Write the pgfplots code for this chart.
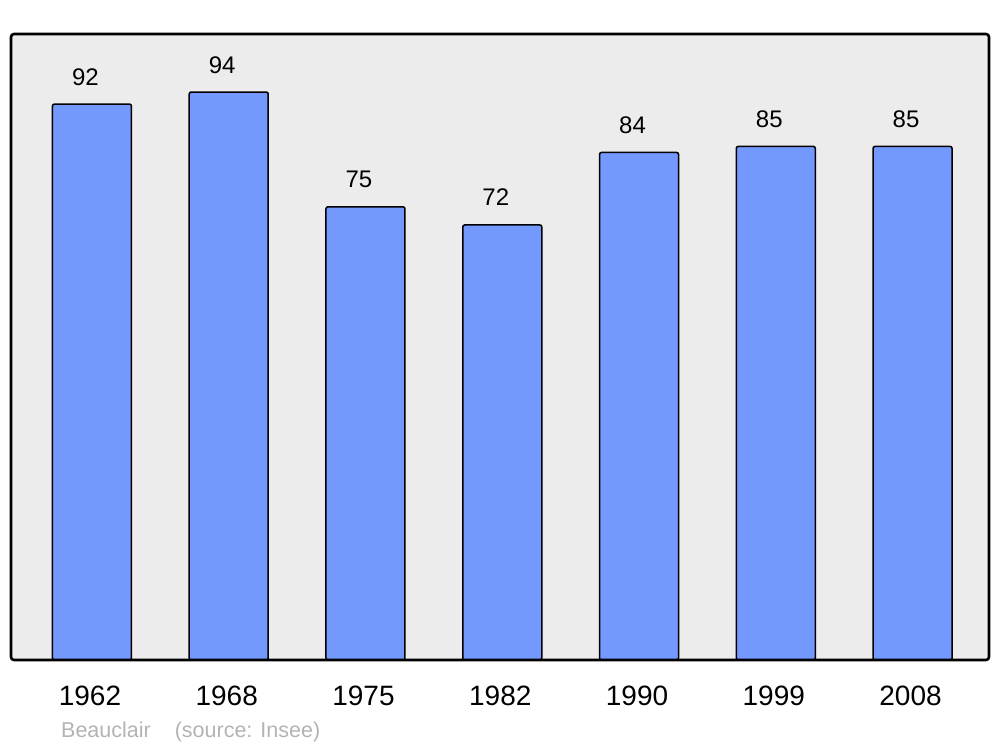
\documentclass[border=0pt]{standalone}
\usepackage{fontspec}
\setmainfont{Liberation Sans}
\usepackage{pgfplots}
\pgfplotsset{compat=1.18}
\definecolor{bgc}{RGB}{236,236,236}
\definecolor{barc}{RGB}{115,153,255}
\definecolor{foot}{RGB}{179,179,179}
\begin{document}
\begin{tikzpicture}
\begin{axis}[
  scale only axis,
  width=978bp, height=626bp,
  xmin=-0.592, xmax=6.559,
  ymin=0, ymax=103.6,
  axis line style={draw=none},
  ybar, bar width=79bp,
  bar shift=0pt,
  xtick={0,1,2,3,4,5,6},
  xticklabels={1962,1968,1975,1982,1990,1999,2008},
  ytick=\empty,
  major tick length=0pt,
  xtick pos=bottom,
  xticklabel style={font=\fontsize{28bp}{32bp}\selectfont, anchor=base, inner sep=0pt, yshift=-45bp, xshift=-2bp},
  nodes near coords,
  /pgf/number format/assume math mode=true,
  nodes near coords style={font=\fontsize{24bp}{28bp}\selectfont, anchor=base, inner sep=0pt, yshift=19bp, xshift=-6.5bp, text=black},
  axis background/.style={fill=bgc},
]
\addplot[fill=barc, draw=black, line width=1.5bp, rounded corners=2bp] coordinates {
(0,92) (1,94) (2,75) (3,72) (4,84) (5,85) (6,85)};
\coordinate (bl) at (rel axis cs:0,0);
\coordinate (tr) at (rel axis cs:1,1);
\end{axis}
\draw[line width=2.6bp, rounded corners=3bp] (bl) rectangle (tr);
\node[anchor=base west, inner sep=0pt, text=foot, font=\fontsize{21.5bp}{25bp}\selectfont] at ([shift={(50bp,-77bp)}]bl) {Beauclair\hspace{24bp}(source: Insee)};
\pgfresetboundingbox
\path[use as bounding box] ([shift={(-11bp,-87bp)}]bl) rectangle ([shift={(11bp,34bp)}]tr);
\end{tikzpicture}
\end{document}
